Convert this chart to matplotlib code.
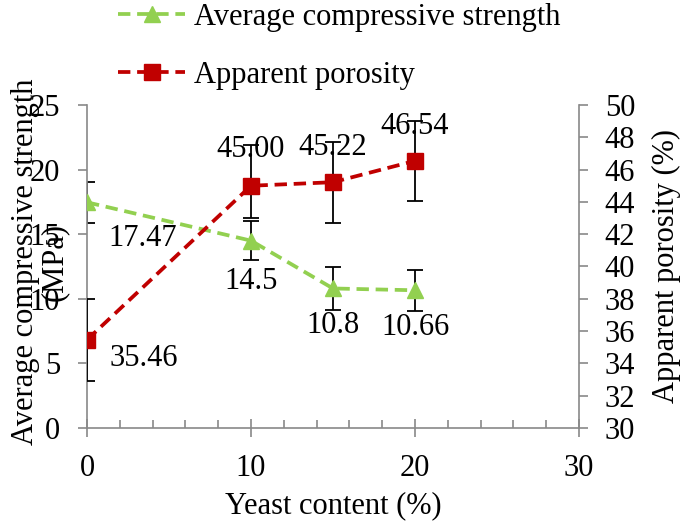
import matplotlib.pyplot as plt
from matplotlib.ticker import MultipleLocator
from matplotlib.lines import Line2D

plt.rcParams["font.family"] = ["Liberation Serif", "DejaVu Serif"]

yeast = [0, 10, 15, 20]
strength = [17.47, 14.5, 10.8, 10.66]
strength_err = [1.6, 1.5, 1.65, 1.6]
porosity = [35.46, 45.00, 45.22, 46.54]
porosity_err_low = [2.55, 2.0, 2.5, 2.5]
porosity_err_high = [2.55, 2.5, 2.5, 2.5]
strength_labels = ["17.47", "14.5", "10.8", "10.66"]
porosity_labels = ["35.46", "45.00", "45.22", "46.54"]

green = "#92D050"
red = "#C00000"
grey = "#898989"
fs = 22
dash = (0, (3.3, 1.8))

fig = plt.figure(figsize=(6.8, 5.22), dpi=100)
ax = fig.add_axes([87 / 680, 1 - 428 / 522, 492 / 680, 323 / 522])
ax2 = ax.twinx()

ax.errorbar(yeast, strength, yerr=strength_err, fmt="none", ecolor="black",
            elinewidth=1.3, capsize=6, capthick=1.3, zorder=2)
ax.plot(yeast, strength, color=green, linestyle=dash, linewidth=2.7,
        marker="^", markersize=12, zorder=3)

ax2.errorbar(yeast, porosity, yerr=[porosity_err_low, porosity_err_high], fmt="none",
             ecolor="black", elinewidth=1.3, capsize=6, capthick=1.3, zorder=2)
ax2.plot(yeast, porosity, color=red, linestyle=dash, linewidth=2.7,
         marker="s", markersize=11, zorder=3)

# data labels
s_off = [(56, -36), (0, -41), (0, -37), (0, -37)]
for x, y, t, o in zip(yeast, strength, strength_labels, s_off):
    ax.annotate(t, (x, y), xytext=o, textcoords="offset pixels",
                ha="center", va="center", fontsize=fs)
p_off = [(57, -19), (0, 36), (0, 35), (0, 34)]
for x, y, t, o in zip(yeast, porosity, porosity_labels, p_off):
    ax2.annotate(t, (x, y), xytext=o, textcoords="offset pixels",
                 ha="center", va="center", fontsize=fs)

ax.set_xlim(0, 30)
ax.set_ylim(0, 25)
ax2.set_ylim(30, 50)
ax.xaxis.set_major_locator(MultipleLocator(10))
ax.xaxis.set_minor_locator(MultipleLocator(2))
ax.yaxis.set_major_locator(MultipleLocator(5))
ax2.yaxis.set_major_locator(MultipleLocator(2))

for a in (ax, ax2):
    a.spines["top"].set_visible(False)
    for s in a.spines.values():
        s.set_color(grey)
        s.set_linewidth(1.2)
ax.spines["right"].set_visible(False)
ax2.spines["left"].set_visible(False)
ax2.spines["bottom"].set_visible(False)

ax.tick_params(axis="x", which="major", direction="inout", length=13, width=1.2,
               color=grey, labelsize=fs, pad=12)
ax.tick_params(axis="x", which="minor", direction="in", length=6, width=1.2, color=grey)
ax.tick_params(axis="y", direction="out", length=6.5, width=1.2, color=grey,
               labelsize=fs, pad=13)
ax2.tick_params(axis="y", direction="out", length=6.5, width=1.2, color=grey,
                labelsize=fs, pad=12)

fig.text(40 / 680, 1 - 262 / 522, "Average compressive strength\n(MPa)", rotation=90,
         ha="center", va="center", fontsize=fs, multialignment="center", linespacing=1.0)
fig.text(666 / 680, 1 - 266 / 522, "Apparent porosity (%)", rotation=90,
         ha="center", va="center", fontsize=fs)
fig.text(333 / 680, 1 - 506 / 522, "Yeast content (%)", ha="center", va="center",
         fontsize=fs)

handles = [
    Line2D([], [], color=green, linestyle=dash, linewidth=2.7, marker="^",
           markersize=12),
    Line2D([], [], color=red, linestyle=dash, linewidth=2.7, marker="s",
           markersize=11),
]
fig.legend(handles, ["Average compressive strength", "Apparent porosity"],
           loc="upper left", bbox_to_anchor=(118 / 680, 1 - 3 / 522), frameon=False,
           fontsize=fs, handlelength=2.2, handletextpad=0.3, labelspacing=0.95,
           borderaxespad=0.0, borderpad=0.0)

fig.savefig("out.png", dpi=100)
